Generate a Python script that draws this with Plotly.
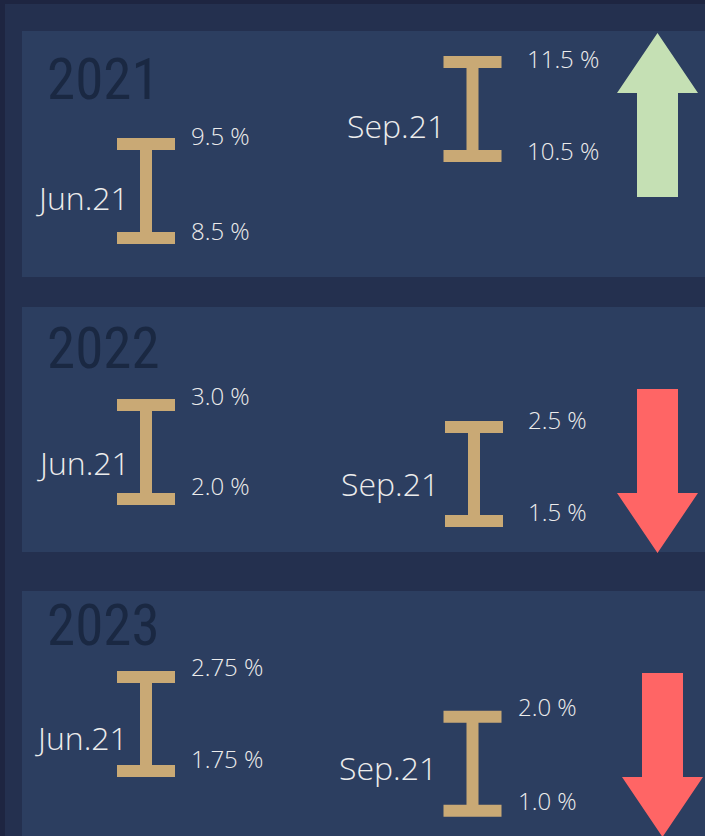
import plotly.graph_objects as go

# ---------------- data ----------------
years = ["2021", "2022", "2023"]
periods = ["Jun.21", "Sep.21"]
jun_high = [9.5, 3.0, 2.75]
jun_low = [8.5, 2.0, 1.75]
sep_high = [11.5, 2.5, 2.0]
sep_low = [10.5, 1.5, 1.0]

# ---------------- layout / style ----------------
W, H = 705, 836
BG_OUTER = "#1e2541"
BG_GAP = "#24304f"
PANEL = "#2c3e60"
BEAM = "#c9a975"
TEXT = "#ececec"
YEAR_C = "#1a2842"
UP_C = "#c5e0b4"
DOWN_C = "#ff6565"

PX_PER_UNIT = 94
panels_y = [(31, 277), (307, 552), (591, 836)]
beam_x = [[146, 472.5], [146, 474], [146, 472.5]]
beam_top_px = [[144, 62], [405, 427], [677, 716.7]]
val_label_x = [[189, 525], [189, 526], [189, 516]]
val_label_up = [[(9, 8), (4, 6)], [(10, 14), (8, 10)], [(11, 13), (10, 10)]]
date_label_x = [[131, 447], [132, 441], [130, 439]]
date_label_down = [[6, 16], [10, 9], [13, 4]]
year_y = [79, 348, 625]
arrow_x = [657.5, 657.5, 662.5]
arrow_span = [(33, 197), (389, 553), (673, 837)]
HEAD_LEN, HEAD_HW, SHAFT_HW = 60, 40.5, 20.5

VAL_FONT = dict(family="Open Sans, Lato, sans-serif", size=24, color=TEXT, weight=300)
DATE_FONT = dict(family="Open Sans, Lato, sans-serif", size=32, color=TEXT, weight=300)
YEAR_FONT = dict(family="Liberation Sans Narrow, Roboto Condensed, DejaVu Sans Condensed, sans-serif",
                 size=57, color=YEAR_C)


def fmt(v):
    return f"{v:.1f}" if abs(v * 10 - round(v * 10)) < 1e-9 else f"{v:.2f}"


fig = go.Figure()
shapes = []
annotations = []
layout_axes = {}

# background strips and panels
shapes.append(dict(type="rect", xref="x", yref="y", x0=0, x1=5, y0=0, y1=H,
                   fillcolor=BG_OUTER, line_width=0, layer="below"))
shapes.append(dict(type="rect", xref="x", yref="y", x0=0, x1=W, y0=0, y1=4,
                   fillcolor=BG_OUTER, line_width=0, layer="below"))
for (y0, y1) in panels_y:
    shapes.append(dict(type="rect", xref="x", yref="y", x0=22, x1=W + 2, y0=y0, y1=y1,
                       fillcolor=PANEL, line_width=0, layer="below"))

highs = [jun_high, sep_high]
lows = [jun_low, sep_low]

axis_n = 2
for i, year in enumerate(years):
    annotations.append(dict(xref="x", yref="y", x=45, y=year_y[i], text=year,
                            xanchor="left", yanchor="middle", showarrow=False,
                            font=YEAR_FONT))
    for j, period in enumerate(periods):
        hi = highs[j][i]
        lo = lows[j][i]
        top_px = beam_top_px[i][j]
        rng = [hi - (H - top_px) / PX_PER_UNIT, hi + top_px / PX_PER_UNIT]
        ax = f"y{axis_n}"
        layout_axes[f"yaxis{axis_n}"] = dict(range=rng, overlaying="y", visible=False,
                                             fixedrange=True)
        fig.add_trace(go.Scatter(
            x=[beam_x[i][j]], y=[lo], yaxis=ax, mode="markers",
            marker=dict(size=1, color="rgba(0,0,0,0)"),
            error_y=dict(type="data", symmetric=False, array=[hi - lo], arrayminus=[0],
                         color=BEAM, thickness=12, width=29),
            hoverinfo="skip", showlegend=False))
        up_hi, up_lo = val_label_up[i][j]
        annotations.append(dict(xref="x", yref=ax, x=val_label_x[i][j], y=hi,
                                yshift=up_hi, text=f"{fmt(hi)} %", xanchor="left",
                                yanchor="middle", showarrow=False, font=VAL_FONT))
        annotations.append(dict(xref="x", yref=ax, x=val_label_x[i][j], y=lo,
                                yshift=up_lo, text=f"{fmt(lo)} %", xanchor="left",
                                yanchor="middle", showarrow=False, font=VAL_FONT))
        annotations.append(dict(xref="x", yref=ax, x=date_label_x[i][j], y=(hi + lo) / 2,
                                yshift=-date_label_down[i][j], text=period, xanchor="right",
                                yanchor="middle", showarrow=False, font=DATE_FONT))
        axis_n += 1

    # direction arrow derived from the change between the two periods
    going_up = (sep_high[i] + sep_low[i]) > (jun_high[i] + jun_low[i])
    cx = arrow_x[i]
    ya, yb = arrow_span[i]
    if going_up:
        hb = ya + HEAD_LEN
        path = (f"M {cx},{ya} L {cx + HEAD_HW},{hb} L {cx + SHAFT_HW},{hb} "
                f"L {cx + SHAFT_HW},{yb} L {cx - SHAFT_HW},{yb} L {cx - SHAFT_HW},{hb} "
                f"L {cx - HEAD_HW},{hb} Z")
        col = UP_C
    else:
        hb = yb - HEAD_LEN
        path = (f"M {cx},{yb} L {cx + HEAD_HW},{hb} L {cx + SHAFT_HW},{hb} "
                f"L {cx + SHAFT_HW},{ya} L {cx - SHAFT_HW},{ya} L {cx - SHAFT_HW},{hb} "
                f"L {cx - HEAD_HW},{hb} Z")
        col = DOWN_C
    shapes.append(dict(type="path", xref="x", yref="y", path=path,
                       fillcolor=col, line_width=0, layer="below"))

fig.update_layout(
    width=W, height=H, autosize=False,
    margin=dict(l=0, r=0, t=0, b=0, pad=0),
    paper_bgcolor=BG_GAP, plot_bgcolor="rgba(0,0,0,0)",
    xaxis=dict(range=[0, W], visible=False, fixedrange=True),
    yaxis=dict(range=[H, 0], visible=False, fixedrange=True),
    shapes=shapes, annotations=annotations, showlegend=False,
    **layout_axes,
)

fig.write_html(
    "out.html",
    config={"displayModeBar": False},
    post_script="document.body.style.margin='0';document.body.style.padding='0';"
                "document.body.style.overflow='hidden';",
)
